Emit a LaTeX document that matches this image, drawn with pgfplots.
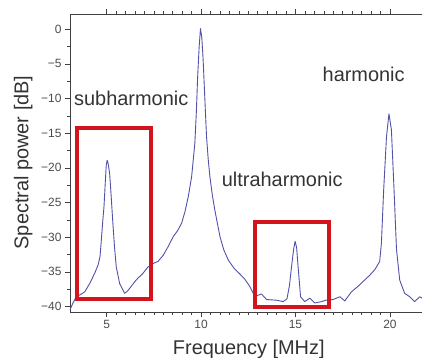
\documentclass[border=0pt]{standalone}
\usepackage{fontspec}
\setmainfont{Liberation Sans}
\usepackage{pgfplots}
\pgfplotsset{compat=1.18}
\definecolor{curve}{HTML}{5252A8}
\definecolor{boxred}{HTML}{D4141C}
\begin{document}
\begin{tikzpicture}
\begin{axis}[
  scale only axis, width=352bp, height=298bp,
  xmin=3.06, xmax=21.7, ymin=-40.8, ymax=2.2,
  axis x line=box, axis y line=left,
  y axis line style={-},
  axis line style={black!75, line width=0.6bp},
  tick style={black!75, line width=0.6bp},
  tick align=outside,
  major tick length=5bp, minor tick length=3bp,
  xtick={5,10,15,20}, xticklabels={5,10,15,20}, minor x tick num=9,
  ytick={-40,-35,-30,-25,-20,-15,-10,-5,0},
  yticklabels={−40,−35,−30,−25,−20,−15,−10,−5,0},
  minor y tick num=1,
  tick label style={font=\fontsize{12}{14}\selectfont, text=black!70},
  xlabel={Frequency [MHz]}, ylabel={Spectral power [dB]},
  label style={font=\fontsize{20}{24}\selectfont, text=black!80, inner sep=0pt},
  xlabel style={at={(axis description cs:0.508,-0.1426)}, anchor=base},
  ylabel style={at={(axis description cs:-0.1179,0.502)}, anchor=base},
]
\addplot[curve, line width=0.9bp, line join=round] coordinates {
(3.06,-40.5) (3.2,-39.6) (3.39,-38.6) (3.6,-38.3) (3.84,-37.9) (4.10,-36.7)
(4.37,-35.2) (4.55,-34.0) (4.65,-32.8) (4.72,-30.4) (4.80,-27.5) (4.86,-25.6)
(4.93,-22.0) (4.98,-19.6) (5.03,-18.9) (5.08,-19.4) (5.16,-20.8) (5.25,-24.5)
(5.33,-28.0) (5.42,-31.5) (5.51,-34.3) (5.69,-36.7) (5.95,-38.1) (6.1,-37.8)
(6.30,-37.1) (6.5,-36.4) (6.66,-35.9) (6.9,-35.3) (7.19,-34.3) (7.47,-33.8)
(7.72,-33.5) (8.0,-32.6) (8.25,-31.4) (8.53,-29.9) (8.75,-29.1) (8.97,-28.0)
(9.15,-26.3) (9.32,-24.2) (9.50,-21.3) (9.67,-16.5) (9.75,-12.0) (9.82,-6.8)
(9.90,-2.5) (9.97,0.1) (10.04,-1.2) (10.11,-4.4) (10.2,-10.0) (10.29,-15.5)
(10.38,-18.8) (10.47,-21.3) (10.6,-24.0) (10.73,-26.1) (11.0,-29.9) (11.2,-31.8)
(11.44,-33.3) (11.75,-34.5) (12.05,-35.3) (12.3,-36.0) (12.58,-37.1) (12.85,-38.6)
(13.0,-38.4) (13.2,-38.2) (13.47,-39.0) (14.0,-39.1) (14.35,-39.3) (14.55,-38.9)
(14.68,-37.0) (14.79,-34.3) (14.9,-31.8) (14.98,-30.6) (15.06,-31.5) (15.14,-34.3)
(15.27,-38.6) (15.49,-39.3) (15.76,-38.8) (16.02,-39.5) (16.38,-39.3) (16.6,-39.1)
(16.99,-39.0) (17.35,-38.6) (17.61,-39.2) (17.96,-37.9) (18.31,-37.1) (18.58,-36.4)
(18.93,-35.5) (19.2,-34.7) (19.46,-33.5) (19.55,-30.9) (19.67,-23.2) (19.82,-15.5)
(19.95,-12.2) (20.08,-14.5) (20.22,-23.2) (20.35,-31.8) (20.52,-36.2) (20.78,-38.1)
(21.05,-38.6) (21.31,-39.3) (21.58,-38.6) (21.7,-38.8)
};
\addplot[boxred, line width=3.8bp, line join=miter] coordinates {
(3.45,-14.3) (7.37,-14.3) (7.37,-38.97) (3.45,-38.97)} -- cycle;
\addplot[boxred, line width=3.8bp, line join=miter] coordinates {
(12.85,-27.85) (16.76,-27.85) (16.76,-40.03) (12.85,-40.03)} -- cycle;
\node[anchor=base west, inner sep=0pt, font=\fontsize{20}{24}\selectfont, text=black!80] at (axis cs:3.27,-11.07) {subharmonic};
\node[anchor=base west, inner sep=0pt, font=\fontsize{20}{24}\selectfont, text=black!80] at (axis cs:16.43,-7.56) {harmonic};
\node[anchor=base west, inner sep=0pt, font=\fontsize{20}{24}\selectfont, text=black!80] at (axis cs:11.09,-22.7) {ultraharmonic};
\end{axis}
\pgfresetboundingbox
\path ([shift={(-70bp,-46bp)}]current axis.south west) rectangle ([shift={(0bp,14bp)}]current axis.north east);
\end{tikzpicture}
\end{document}
